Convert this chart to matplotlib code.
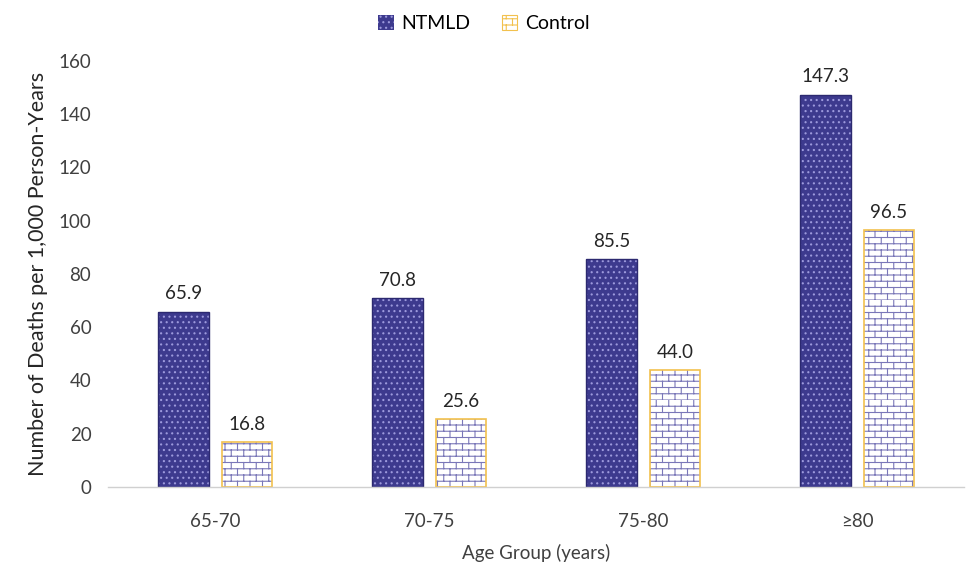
import warnings
import matplotlib
matplotlib.use("Agg")
import matplotlib.pyplot as plt
import matplotlib.hatch as mhatch
from matplotlib.path import Path
import numpy as np
from matplotlib.patches import Patch

warnings.filterwarnings("ignore")

age_groups = ["65-70", "70-75", "75-80", "≥80"]
ntmld = [65.9, 70.8, 85.5, 147.3]
control = [16.8, 25.6, 44.0, 96.5]
series_names = ["NTMLD", "Control"]


class BrickHatch(mhatch.HatchPatternBase):
    """Brick-wall hatch selected with the letter 'b'."""

    def __init__(self, hatch, density):
        self.num_rows = hatch.count("b") * 8
        self.num_cols = self.num_rows // 2
        self.num_vertices = self.num_rows * 2 + self.num_rows * self.num_cols * 2

    def set_vertices_and_codes(self, vertices, codes):
        k = 0
        for i in range(self.num_rows):
            y0 = i / self.num_rows
            y1 = (i + 1) / self.num_rows
            vertices[k] = (0.0, y0)
            vertices[k + 1] = (1.0, y0)
            codes[k] = Path.MOVETO
            codes[k + 1] = Path.LINETO
            k += 2
            shift = 0.5 * (i % 2)
            for j in range(self.num_cols):
                xv = (j + shift) / self.num_cols
                vertices[k] = (xv, y0)
                vertices[k + 1] = (xv, y1)
                codes[k] = Path.MOVETO
                codes[k + 1] = Path.LINETO
                k += 2


mhatch._hatch_types.append(BrickHatch)

plt.rcParams["font.family"] = ["Lato", "DejaVu Sans"]
plt.rcParams["hatch.linewidth"] = 0.8

fig = plt.figure(figsize=(9.68, 5.66), dpi=100)
ax = fig.add_axes([0.1116, 0.1396, 0.8844, 0.7527])

x = np.arange(len(age_groups))
w = 0.235
off = 0.148

ntmld_face = "#3d3a8e"
ntmld_dot = "#9c99dc"
ctrl_hatch = "#7a77b8"
ctrl_edge = "#f2c14e"

# NTMLD: dark fill with light dot hatch, then outline
ax.bar(x - off, ntmld, w, color=ntmld_face, edgecolor=ntmld_dot, hatch="...", linewidth=0)
ax.bar(x - off, ntmld, w, fill=False, edgecolor="#2c2970", linewidth=1.0)

# Control: white fill with brick hatch, then gold outline
ax.bar(x + off, control, w, color="white", edgecolor=ctrl_hatch, hatch="bb", linewidth=0)
ax.bar(x + off, control, w, fill=False, edgecolor=ctrl_edge, linewidth=1.2)

for xi, v in zip(x - off, ntmld):
    ax.text(xi, v + 3.5, f"{v:.1f}", ha="center", va="bottom", fontsize=13.5, color="#262626")
for xi, v in zip(x + off, control):
    ax.text(xi, v + 3.5, f"{v:.1f}", ha="center", va="bottom", fontsize=13.5, color="#262626")

ax.set_xlim(-0.5, 3.5)
ax.set_ylim(0, 160)
ax.set_yticks(np.arange(0, 161, 20))
ax.set_xticks(x)
ax.set_xticklabels(age_groups)
ax.tick_params(axis="both", length=0, labelsize=13.5, colors="#404040")
ax.tick_params(axis="x", pad=19)
ax.tick_params(axis="y", pad=12)
for s in ["top", "right", "left"]:
    ax.spines[s].set_visible(False)
ax.spines["bottom"].set_color("#d0d0d0")
ax.spines["bottom"].set_linewidth(1.0)

ax.set_xlabel("Age Group (years)", fontsize=13.5, color="#404040", labelpad=10)
ax.set_ylabel("Number of Deaths per 1,000 Person-Years", fontsize=15.5, color="#262626", labelpad=8)

handles = [
    Patch(facecolor=ntmld_face, edgecolor=ntmld_dot, hatch="...", linewidth=0),
    Patch(facecolor="white", edgecolor=ctrl_edge, hatch="bb", linewidth=0.8),
]
fig.legend(handles, series_names, loc="upper center", bbox_to_anchor=(0.5, 1.005),
           ncol=2, frameon=False, fontsize=14, handlelength=0.8, handleheight=0.8,
           handletextpad=0.4, columnspacing=1.6)

fig.savefig("out.png", dpi=100)
